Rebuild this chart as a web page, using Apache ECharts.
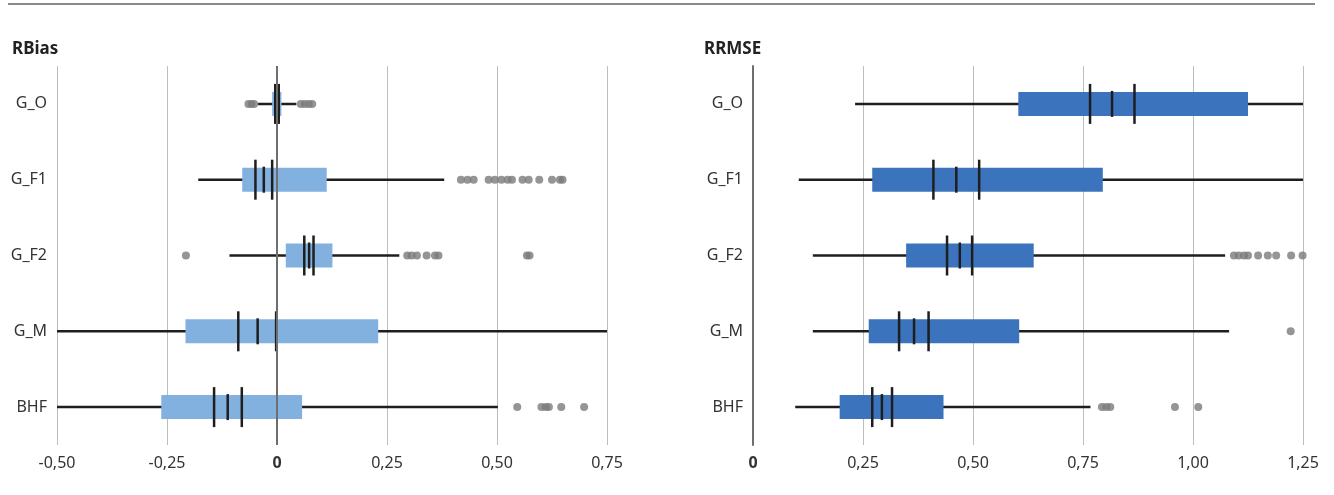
<!DOCTYPE html>
<html>
<head>
<meta charset="utf-8">
<script src="https://cdn.jsdelivr.net/npm/echarts@6/dist/echarts.min.js"></script>
<style>
  html, body { margin: 0; padding: 0; background: #fff; }
  #chart { width: 1334px; height: 495px; }
</style>
</head>
<body>
<div id="chart"></div>
<script>
const categories = ['G_O', 'G_F1', 'G_F2', 'G_M', 'BHF'];

// RBias: whiskers, quartiles and the three marks inside each box
const rbiasWhiskerLow = [-0.043, -0.179, -0.108, -0.5, -0.5];
const rbiasQ1 = [-0.011, -0.079, 0.020, -0.208, -0.263];
const rbiasMarkLow = [-0.004, -0.049, 0.062, -0.088, -0.143];
const rbiasMarkMid = [0.0, -0.030, 0.073, -0.044, -0.112];
const rbiasMarkHigh = [0.004, -0.011, 0.083, -0.002, -0.080];
const rbiasQ3 = [0.010, 0.113, 0.126, 0.230, 0.057];
const rbiasWhiskerHigh = [0.044, 0.380, 0.278, 0.75, 0.502];
const rbiasOutliers = [
    [-0.065, -0.058, -0.052, 0.054, 0.063, 0.072, 0.080],
    [0.418, 0.433, 0.447, 0.481, 0.495, 0.510, 0.524, 0.534, 0.558, 0.572, 0.596, 0.625, 0.643, 0.649],
    [-0.207, 0.296, 0.306, 0.318, 0.340, 0.359, 0.367, 0.568, 0.574],
    [],
    [0.546, 0.601, 0.611, 0.618, 0.646, 0.698]
];

// RRMSE
const rrmseWhiskerLow = [0.232, 0.104, 0.136, 0.136, 0.096];
const rrmseQ1 = [0.603, 0.271, 0.348, 0.263, 0.197];
const rrmseMarkLow = [0.766, 0.410, 0.441, 0.332, 0.271];
const rrmseMarkMid = [0.816, 0.462, 0.470, 0.366, 0.293];
const rrmseMarkHigh = [0.867, 0.514, 0.498, 0.399, 0.316];
const rrmseQ3 = [1.125, 0.795, 0.638, 0.605, 0.433];
const rrmseWhiskerHigh = [1.25, 1.25, 1.073, 1.082, 0.767];
const rrmseOutliers = [
    [],
    [],
    [1.093, 1.104, 1.116, 1.125, 1.148, 1.170, 1.189, 1.223, 1.249],
    [1.222],
    [0.793, 0.803, 0.812, 0.959, 1.012]
];

const FONT = 'Noto Sans';

const boxData = (lo, q1, m1, m2, m3, q3, hi) =>
    categories.map((c, i) => [i, lo[i], q1[i], m1[i], m2[i], m3[i], q3[i], hi[i]]);

const outlierData = (list) => {
    const out = [];
    list.forEach((vals, i) => vals.forEach(v => out.push([v, i])));
    return out;
};

const fmt = (v) => (v === 0 ? '{b|0}' : v.toFixed(2).replace('.', ','));

// draws whisker, box and the three marks for one category
const renderBox = (color) => (params, api) => {
    const cat = api.value(0);
    const pt = (k) => api.coord([api.value(k), cat]);
    const lo = pt(1), q1 = pt(2), m1 = pt(3), m2 = pt(4), m3 = pt(5), q3 = pt(6), hi = pt(7);
    const y = lo[1];
    const boxH = 24, markH = 40;
    const line = (x, h, w) => ({
        type: 'line',
        shape: { x1: x, y1: y - h / 2, x2: x, y2: y + h / 2 },
        style: { stroke: '#1e1e1e', lineWidth: w }
    });
    return {
        type: 'group',
        children: [
            {
                type: 'line',
                shape: { x1: lo[0], y1: y, x2: hi[0], y2: y },
                style: { stroke: '#1e1e1e', lineWidth: 2.5 }
            },
            {
                type: 'rect',
                shape: { x: q1[0], y: y - boxH / 2, width: q3[0] - q1[0], height: boxH },
                style: { fill: color }
            },
            line(m1[0], markH, 2.5),
            line(m2[0], boxH + 2, 2.5),
            line(m3[0], markH, 2.5)
        ]
    };
};

const xAxisBase = {
    type: 'value',
    interval: 0.25,
    axisLine: { show: false },
    axisTick: { show: false },
    splitLine: { show: true, lineStyle: { color: '#bdbdbd', width: 1 } },
    axisLabel: {
        formatter: fmt,
        color: '#333',
        fontSize: 16,
        fontFamily: FONT,
        margin: 10,
        rich: { b: { fontWeight: 'bold', fontSize: 16, color: '#333', fontFamily: FONT } }
    }
};

const yAxisBase = {
    type: 'category',
    data: categories,
    inverse: true,
    axisTick: { show: false },
    splitLine: { show: false },
    axisLabel: { color: '#333', fontSize: 16, fontFamily: FONT, margin: 10 }
};

const chart = echarts.init(document.getElementById('chart'));

const option = {
    backgroundColor: '#fff',
    animation: false,
    title: [
        { text: 'RBias', left: 7, top: 36, textStyle: { fontSize: 17, fontWeight: 'bold', color: '#222', fontFamily: FONT } },
        { text: 'RRMSE', left: 699, top: 36, textStyle: { fontSize: 17, fontWeight: 'bold', color: '#222', fontFamily: FONT } }
    ],
    graphic: [
        {
            type: 'line',
            shape: { x1: 8, y1: 4, x2: 1315, y2: 4 },
            style: { stroke: '#8a8a8a', lineWidth: 2 }
        }
    ],
    grid: [
        { left: 57, right: 727, top: 66, height: 379 },
        { left: 753, right: 31, top: 66, height: 379 }
    ],
    xAxis: [
        Object.assign({}, xAxisBase, { gridIndex: 0, min: -0.5, max: 0.75 }),
        Object.assign({}, xAxisBase, { gridIndex: 1, min: 0, max: 1.25 })
    ],
    yAxis: [
        Object.assign({}, yAxisBase, { gridIndex: 0, axisLine: { show: false } }),
        Object.assign({}, yAxisBase, {
            gridIndex: 1,
            axisLine: { show: true, lineStyle: { color: '#6e6e6e', width: 2 } }
        })
    ],
    series: [
        {
            name: 'RBias outliers',
            type: 'scatter',
            xAxisIndex: 0,
            yAxisIndex: 0,
            z: 1,
            clip: false,
            symbolSize: 8,
            itemStyle: { color: '#7b7b7b' },
            data: outlierData(rbiasOutliers),
            markLine: {
                silent: true,
                symbol: 'none',
                label: { show: false },
                lineStyle: { color: '#6e6e6e', width: 2, type: 'solid' },
                data: [{ xAxis: 0 }]
            }
        },
        {
            name: 'RBias',
            type: 'custom',
            xAxisIndex: 0,
            yAxisIndex: 0,
            z: 3,
            renderItem: renderBox('#82B1E0'),
            encode: { x: [1, 2, 3, 4, 5, 6, 7], y: 0 },
            data: boxData(rbiasWhiskerLow, rbiasQ1, rbiasMarkLow, rbiasMarkMid, rbiasMarkHigh, rbiasQ3, rbiasWhiskerHigh)
        },
        {
            name: 'RRMSE outliers',
            type: 'scatter',
            xAxisIndex: 1,
            yAxisIndex: 1,
            z: 1,
            clip: false,
            symbolSize: 8,
            itemStyle: { color: '#7b7b7b' },
            data: outlierData(rrmseOutliers)
        },
        {
            name: 'RRMSE',
            type: 'custom',
            xAxisIndex: 1,
            yAxisIndex: 1,
            z: 3,
            clip: false,
            renderItem: renderBox('#3B74BC'),
            encode: { x: [1, 2, 3, 4, 5, 6, 7], y: 0 },
            data: boxData(rrmseWhiskerLow, rrmseQ1, rrmseMarkLow, rrmseMarkMid, rrmseMarkHigh, rrmseQ3, rrmseWhiskerHigh)
        }
    ]
};

chart.setOption(option);

window.addEventListener('resize', () => chart.resize());
</script>
</body>
</html>
